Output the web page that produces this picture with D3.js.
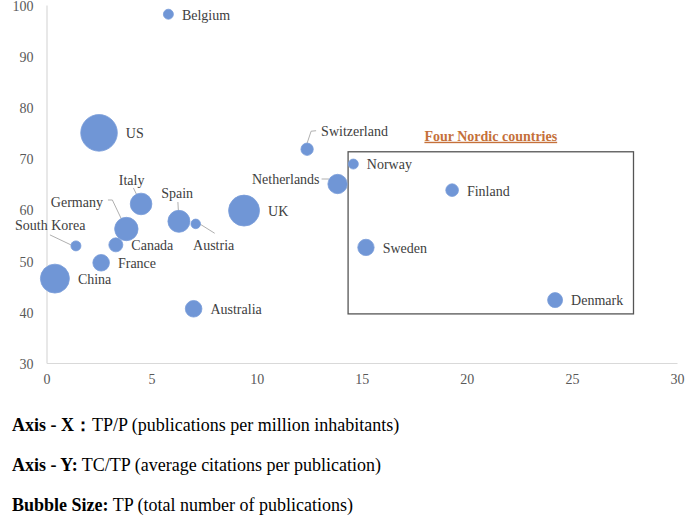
<!DOCTYPE html>
<html><head><meta charset="utf-8">
<script src="https://cdn.jsdelivr.net/npm/d3@7"></script>
<style>
body{margin:0;background:#fff}
text{font-family:"Liberation Serif","Times New Roman",serif}
</style>
</head><body>
<svg id="c" width="685" height="516"></svg>
<script>
// ---- data ----
const countries      = ["Belgium","US","Switzerland","Norway","Netherlands","Finland","Italy","UK","Spain","Austria","Germany","Sweden","South Korea","Canada","France","China","Australia","Denmark"];
const tpPerMillion   = [5.8, 2.5, 12.4, 14.6, 13.85, 19.3, 4.5, 9.4, 6.3, 7.1, 3.8, 15.2, 1.4, 3.3, 2.6, 0.4, 7.0, 24.2];
const citationsPerTP = [98.2, 75.0, 71.8, 68.9, 65.0, 63.8, 61.1, 59.8, 57.7, 57.2, 56.2, 52.6, 52.9, 53.1, 49.6, 46.5, 40.6, 42.3];
const totalPubs      = [25, 335, 38, 25, 94, 40, 117, 240, 121, 23, 137, 67, 25, 49, 69, 210, 69, 56];
const xTickValues    = [0, 5, 10, 15, 20, 25, 30];
const yTickValues    = [30, 40, 50, 60, 70, 80, 90, 100];
const nordicBoxX     = [14.35, 27.93];
const nordicBoxY     = [39.6, 71.3];
const nordicTitle    = "Four Nordic countries";
const footLines = [
  ["Axis - X\uFF1A", "TP/P (publications per million inhabitants)"],
  ["Axis - Y:", " TC/TP (average citations per publication)"],
  ["Bubble Size:", " TP (total number of publications)"]
];

// ---- label layout (pixel offsets from bubble centre) ----
const labelLayout = {
  "Switzerland": {dx:14, dy:-19, anchor:"start", leader:[[0,-6],[4,-18],[9,-18.5]]},
  "Netherlands": {dx:-18, dy:-5, anchor:"end", leader:[[-16,-5],[-9,-5],[-3,-1]]},
  "Italy":       {dx:-9.5, dy:-24, anchor:"middle", leader:[[-7.7,-16],[-1,-2.3]]},
  "Germany":     {dx:-23.4, dy:-27.6, anchor:"end", leader:[[-18.4,-29],[-14,-29],[-0.7,-1]]},
  "South Korea": {dx:-25.7, dy:-21, anchor:"middle", leader:[[-26,-11],[-5,-1]]},
  "Spain":       {dx:-1.8, dy:-28.3, anchor:"middle", leader:[[-1,-19.3],[0,-1]]},
  "Austria":     {dx:-2.7, dy:20.7, anchor:"start", leader:[[4,0],[19,9.4]]}
};

const svg = d3.select("#c");
const x = d3.scaleLinear().domain([0,30]).range([46.5, 677]);
const y = d3.scaleLinear().domain([30,100]).range([363, 5]);
const r = d3.scaleSqrt().domain([0, d3.max(totalPubs)]).range([0, 18.3]);

// axes
const xAxis = svg.append("g").attr("transform", `translate(0,${y(30)})`)
  .call(d3.axisBottom(x).tickValues(xTickValues).tickSize(0).tickPadding(11));
const yAxis = svg.append("g").attr("transform", `translate(${x(0)},0)`)
  .call(d3.axisLeft(y).tickValues(yTickValues).tickSize(0).tickPadding(13));
[xAxis, yAxis].forEach(g => {
  g.select(".domain").attr("stroke", "#d9d9d9").attr("stroke-width", 1.2);
  g.selectAll("text").attr("fill", "#595959").style("font-size", "14px")
    .style("font-family", '"Liberation Serif","Times New Roman",serif');
});
yAxis.selectAll("text").attr("dy", "0.38em");

const data = countries.map((c,i) => ({name:c, x:tpPerMillion[i], y:citationsPerTP[i], s:totalPubs[i]}));

// nordic box
svg.append("rect")
  .attr("x", x(nordicBoxX[0])).attr("y", y(nordicBoxY[1]))
  .attr("width", x(nordicBoxX[1]) - x(nordicBoxX[0]))
  .attr("height", y(nordicBoxY[0]) - y(nordicBoxY[1]))
  .attr("fill", "none").attr("stroke", "#555").attr("stroke-width", 1.3);
svg.append("text")
  .attr("x", (x(nordicBoxX[0]) + x(nordicBoxX[1]))/2)
  .attr("y", y(nordicBoxY[1]) - 11)
  .attr("text-anchor", "middle")
  .attr("fill", "#c5703a")
  .style("font-size", "14px").style("font-weight", "bold")
  .style("text-decoration", "underline")
  .text(nordicTitle);

// leaders
const line = d3.line();
data.forEach(d => {
  const L = labelLayout[d.name];
  if (L && L.leader) {
    svg.append("path")
      .attr("d", line(L.leader.map(p => [x(d.x)+p[0], y(d.y)+p[1]])))
      .attr("fill", "none").attr("stroke", "#a6a6a6").attr("stroke-width", 0.9);
  }
});

// bubbles
svg.append("g").selectAll("circle").data(data).join("circle")
  .attr("cx", d => x(d.x)).attr("cy", d => y(d.y)).attr("r", d => r(d.s))
  .attr("fill", "#7096d6").attr("stroke", "#7a9dd9").attr("stroke-width", 0.8);

// labels
svg.append("g").selectAll("text").data(data).join("text")
  .attr("x", d => { const L = labelLayout[d.name]; return L ? x(d.x)+L.dx : x(d.x)+r(d.s)+8.5; })
  .attr("y", d => { const L = labelLayout[d.name]; return (L ? y(d.y)+L.dy : y(d.y)) + 0.5; })
  .attr("dy", "0.35em")
  .attr("text-anchor", d => labelLayout[d.name] ? labelLayout[d.name].anchor : "start")
  .attr("fill", "#404040").style("font-size", "14px")
  .text(d => d.name);

// footnotes
const baselines = [431, 471, 511];
footLines.forEach((ln, i) => {
  const t = svg.append("text").attr("x", 12).attr("y", baselines[i])
    .attr("fill", "#000").style("font-size", "18px");
  t.append("tspan").style("font-weight", "bold").text(ln[0]);
  t.append("tspan").text(ln[1]);
});
</script>
</body></html>
